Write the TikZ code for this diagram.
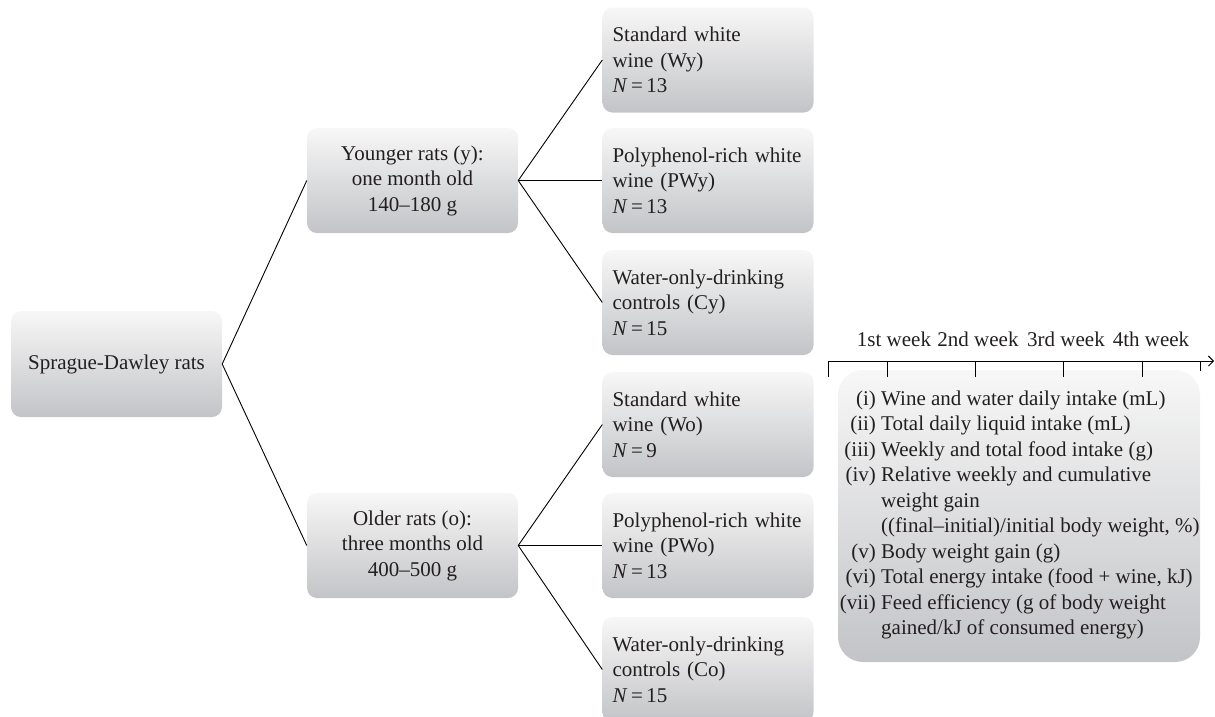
\documentclass[tikz,border=0pt]{standalone}
\usepackage{fontspec}
\setmainfont{Liberation Serif}
\usetikzlibrary{arrows.meta}
\definecolor{boxtop}{HTML}{F7F7F7}
\definecolor{boxbot}{HTML}{C3C4C7}
\definecolor{txt}{HTML}{231F20}
\newcommand{\nval}[1]{\textit{N}\hspace{0.17em}=\hspace{0.17em}#1}
\begin{document}
\begin{tikzpicture}[x=1pt,y=-1pt,
  box/.style={shape=rectangle, rounded corners=10pt, top color=boxtop, bottom color=boxbot,
    draw=none, minimum width=211pt, minimum height=105pt, inner sep=0pt,
    font=\fontsize{21}{25.5}\selectfont, text=txt},
  cbox/.style={box, align=center},
  lbox/.style={box, text width=191pt, align=left, inner xsep=10pt},
  link/.style={draw=black, line width=0.9pt},
  axisline/.style={draw=black, line width=0.9pt},
  wk/.style={font=\fontsize{21}{25.5}\selectfont, text=txt, inner sep=0pt}]
\clip (0,0) rectangle (1215,716);
\useasboundingbox (0,0) rectangle (1215,716);

\node[cbox, minimum height=106pt] (sd) at (116.5,364) {Sprague-Dawley rats};
\node[cbox] (young) at (412.5,180.5) {Younger rats (y):\\one month old\\140--180 g};
\node[cbox] (old) at (412.5,545.5) {Older rats (o):\\three months old\\400--500 g};

\node[lbox] (wy) at (708,60) {Standard white\\wine (Wy)\\\nval{13}};
\node[lbox] (pwy) at (708,180.5) {Polyphenol-rich white\\wine (PWy)\\\nval{13}};
\node[lbox] (cy) at (708,302.5) {Water-only-drinking\\controls (Cy)\\\nval{15}};
\node[lbox] (wo) at (708,424.5) {Standard white\\wine (Wo)\\\nval{9}};
\node[lbox] (pwo) at (708,545.5) {Polyphenol-rich white\\wine (PWo)\\\nval{13}};
\node[lbox] (co) at (708,669.5) {Water-only-drinking\\controls (Co)\\\nval{15}};

\draw[link] (sd.east) -- (young.west);
\draw[link] (sd.east) -- (old.west);
\draw[link] (young.east) -- (wy.west);
\draw[link] (young.east) -- (pwy.west);
\draw[link] (young.east) -- (cy.west);
\draw[link] (old.east) -- (wo.west);
\draw[link] (old.east) -- (pwo.west);
\draw[link] (old.east) -- (co.west);

% measurement box
\node[box, rounded corners=25pt, minimum width=362pt, minimum height=292pt] (meas) at (1019,516) {};
\node[wk, anchor=west, align=left] (list) at (881,515) {%
\llap{(i) }Wine and water daily intake (mL)\\
\llap{(ii) }Total daily liquid intake (mL)\\
\llap{(iii) }Weekly and total food intake (g)\\
\llap{(iv) }Relative weekly and cumulative\\
weight gain\\
((final--initial)/initial body weight, \%)\\
\llap{(v) }Body weight gain (g)\\
\llap{(vi) }Total energy intake (food + wine, kJ)\\
\llap{(vii) }Feed efficiency (g of body weight\\
gained/kJ of consumed energy)};

% timeline
\coordinate (t0) at (828,361);
\coordinate (t1) at (887,361);
\coordinate (t2) at (975,361);
\coordinate (t3) at (1063,361);
\coordinate (t4) at (1142,361);
\coordinate (t5) at (1200,361);
\coordinate (tend) at (1214,361);
\draw[axisline, -{Straight Barb[length=5pt,width=10pt]}] (t0) -- (tend);
\foreach \t in {t0,t1,t2,t3,t4} \draw[axisline] (\t) -- ++(0,16);
\draw[axisline] (t5) -- ++(0,10);
\node[wk] (w1) at (894,339) {1st week};
\node[wk] (w2) at (978,339) {2nd week};
\node[wk] (w3) at (1066,339) {3rd week};
\node[wk] (w4) at (1151,339) {4th week};
\end{tikzpicture}
\end{document}
